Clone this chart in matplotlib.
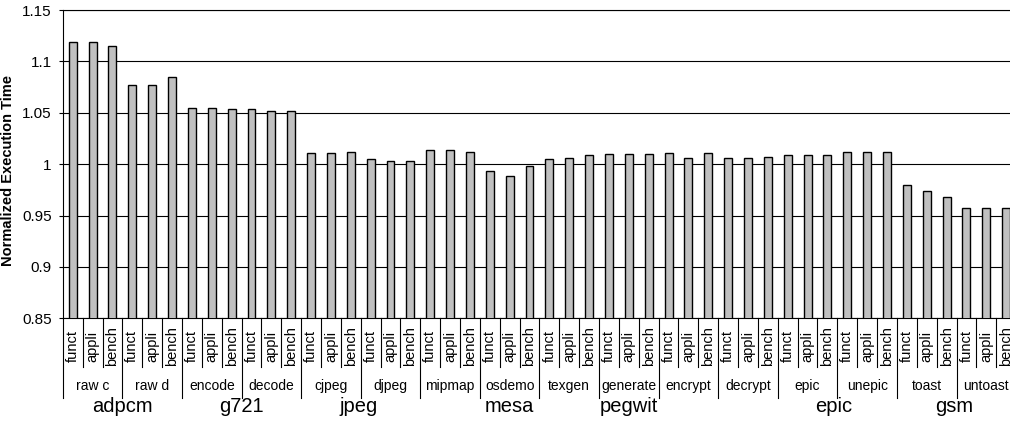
import matplotlib
matplotlib.use('Agg')
import matplotlib.pyplot as plt
import matplotlib.transforms as mtransforms
import numpy as np

plt.rcParams['font.family'] = ['Liberation Sans', 'DejaVu Sans']

# benchmark groups and the programs inside each
groups = ['adpcm', 'g721', 'jpeg', 'mesa', 'pegwit', 'epic', 'gsm']
group_pos = [2.5, 8.5, 14.4, 22.0, 28.0, 38.3, 44.4]
programs = ['raw c', 'raw d', 'encode', 'decode', 'cjpeg', 'djpeg', 'mipmap',
            'osdemo', 'texgen', 'generate', 'encrypt', 'decrypt', 'epic',
            'unepic', 'toast', 'untoast']
variants = ['funct', 'appli', 'bench']

# normalized execution time, 3 values per program (funct, appli, bench)
values = [1.119, 1.119, 1.115,
          1.077, 1.077, 1.085,
          1.055, 1.055, 1.054,
          1.054, 1.052, 1.052,
          1.011, 1.011, 1.012,
          1.005, 1.003, 1.003,
          1.014, 1.014, 1.012,
          0.993, 0.988, 0.998,
          1.005, 1.006, 1.009,
          1.010, 1.010, 1.010,
          1.011, 1.006, 1.011,
          1.006, 1.006, 1.007,
          1.009, 1.009, 1.009,
          1.012, 1.012, 1.012,
          0.980, 0.974, 0.968,
          0.957, 0.957, 0.957]

n = len(values)
x = np.arange(n)

W, H = 1010, 423
fig = plt.figure(figsize=(W / 100, H / 100), dpi=100)
# plot area runs a little past the right edge, as in the reference crop
ax = fig.add_axes([62.8 / W, (H - 318.3) / H, 953.3 / W, 308.3 / H])

ax.bar(x, values, width=0.4, color='#c0c0c0', edgecolor='black',
       linewidth=1.0, zorder=3)

ax.set_ylim(0.85, 1.15)
ax.set_xlim(-0.5, n - 0.5)
yt = [0.85, 0.9, 0.95, 1.0, 1.05, 1.1, 1.15]
ax.set_yticks(yt)
ax.set_yticklabels(['0.85', '0.9', '0.95', '1', '1.05', '1.1', '1.15'], fontsize=11)
ax.tick_params(axis='y', length=3, width=0.8, pad=5)
ax.set_xticks([])
ax.yaxis.grid(True, color='black', linewidth=0.8, zorder=0)
ax.set_axisbelow(True)
ax.spines['right'].set_visible(False)
for s in ['top', 'left', 'bottom']:
    ax.spines[s].set_linewidth(0.8)

ax.set_ylabel('Normalized Execution Time', fontsize=10.5, fontweight='bold')
ax.yaxis.set_label_coords(-0.0501, 0.481)

trans = mtransforms.blended_transform_factory(ax.transData, ax.transAxes)

# variant labels and separators
for i in range(n):
    ax.text(i, -0.0898, variants[i % 3], rotation=90, ha='center', va='center',
            fontsize=10.5, transform=trans)
for b in range(n + 1):
    bx = b - 0.5
    y_end = -0.2575 if b % 3 == 0 else -0.157
    ax.plot([bx, bx], [0, y_end], color='black', linewidth=0.8,
            transform=trans, clip_on=False)

# program labels
for k, p in enumerate(programs):
    ax.text(3 * k + 1, -0.2196, p, ha='center', va='center', fontsize=10,
            transform=trans)

# group labels
for g, gx in zip(groups, group_pos):
    ax.text(gx, -0.2877, g, ha='center', va='center', fontsize=14.5,
            transform=trans)

fig.savefig('out.png', dpi=100)
